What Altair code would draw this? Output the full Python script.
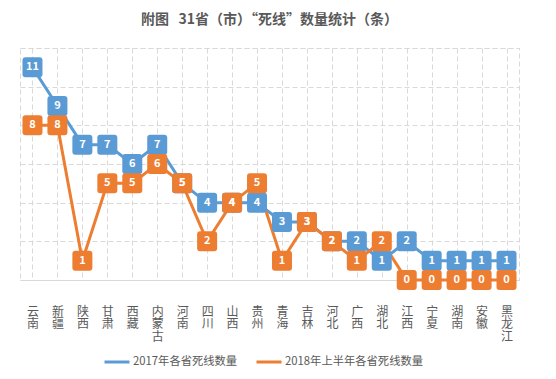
import altair as alt
import pandas as pd

provinces = ["云南", "新疆", "陕西", "甘肃", "西藏", "内蒙古", "河南", "四川", "山西", "贵州",
             "青海", "吉林", "河北", "广西", "湖北", "江西", "宁夏", "湖南", "安徽", "黑龙江"]
v2017 = [11, 9, 7, 7, 6, 7, 5, 4, 4, 4, 3, 3, 2, 2, 1, 2, 1, 1, 1, 1]
v2018 = [8, 8, 1, 5, 5, 6, 5, 2, 4, 5, 1, 3, 2, 1, 2, 0, 0, 0, 0, 0]
series = ["2017年各省死线数量", "2018年上半年各省死线数量"]
colors = ["#5B9BD5", "#ED7D31"]
y_ticks = [0, 2, 4, 6, 8, 10, 12]

rows = []
for s, c, vals in zip(series, colors, [v2017, v2018]):
    for i, (p, v) in enumerate(zip(provinces, vals)):
        rows.append({"province": p, "value": v, "series": s, "c": c, "idx": i})
df = pd.DataFrame(rows)

FONT = "Noto Sans CJK SC"
GRID = "#d9d9d9"
W, H = 499, 232

x_enc = alt.X(
    "province:N", sort=provinces,
    scale=alt.Scale(paddingInner=0, paddingOuter=0),
    axis=alt.Axis(title=None, labelAngle=0, labelExpr="split(datum.label, '')",
                  ticks=False, grid=True, bandPosition=0,
                  gridDash=[5, 3], gridColor=GRID, domainColor=GRID, domainWidth=1,
                  labelPadding=26, labelFontSize=12, labelColor="#595959",
                  labelFont=FONT, labelLineHeight=12.5),
)
y_enc = alt.Y(
    "value:Q", scale=alt.Scale(domain=[0, 12]),
    axis=alt.Axis(title=None, values=y_ticks, labels=False, ticks=False, domain=False,
                  grid=True, gridDash=[5, 3], gridColor=GRID),
)

base = alt.Chart(df)

lines = base.mark_line(strokeWidth=3).encode(
    x=x_enc, y=y_enc,
    color=alt.Color("series:N", scale=alt.Scale(domain=series, range=colors),
                    legend=alt.Legend(title=None, orient="none", direction="horizontal",
                                      legendX=83, legendY=300, symbolType="stroke",
                                      symbolSize=625, symbolStrokeWidth=3,
                                      labelFont=FONT, labelFontSize=11.3, labelColor="#595959",
                                      columnPadding=12, labelOffset=2, padding=0)),
    order="idx:Q",
)

RSQ = "M-1,-0.7Q-1,-1,-0.7,-1L0.7,-1Q1,-1,1,-0.7L1,0.7Q1,1,0.7,1L-0.7,1Q-1,1,-1,0.7Z"
boxes = base.mark_point(shape=RSQ, filled=True, size=400, opacity=1, strokeWidth=0).encode(
    x=x_enc, y=y_enc, color=alt.Color("c:N", scale=None),
)
labels = base.mark_text(color="white", font=FONT, fontSize=11, fontWeight="bold").encode(
    x=x_enc, y=y_enc, text="value:Q",
)

chart = alt.layer(lines, boxes, labels).properties(
    width=W, height=H,
    padding={"left": 12, "top": 5, "right": 5, "bottom": 5},
    title=alt.TitleParams("附图\u00a0\u00a0\u00a031省（市）“死线”数量统计（条）", font=FONT, fontSize=14,
                          fontWeight="bold", color="#595959", offset=21, anchor="middle"),
).configure_view(stroke=GRID, strokeDash=[5, 3])

chart.save("out.html", embed_options={"renderer": "svg", "actions": False})
